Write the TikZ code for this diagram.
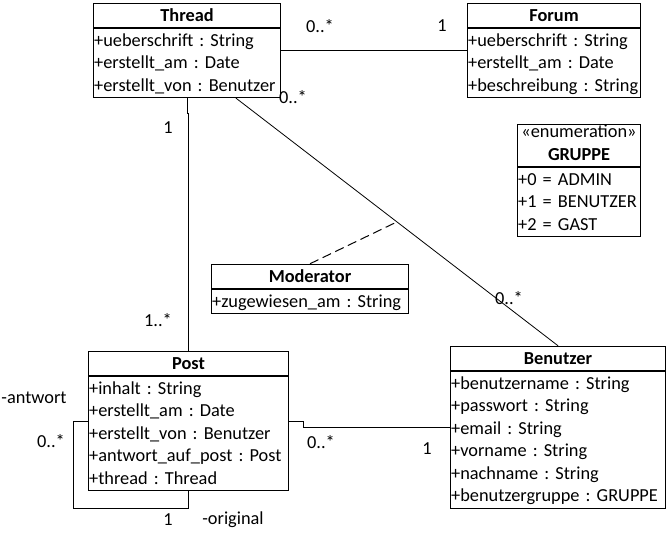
\documentclass[tikz,border=0pt]{standalone}
\usepackage{fontspec}
\setmainfont{Carlito}
\frenchspacing
\usetikzlibrary{positioning,calc,fit}
\newcommand{\clsstrut}{\rule[-4.3pt]{0pt}{16.9pt}}
\tikzset{
  clsfont/.style={font=\fontsize{13.75}{16.9}\selectfont},
  clshead/.style={draw, line width=0.75pt, clsfont, align=center, inner xsep=0pt, inner ysep=0.55pt,
                  execute at begin node=\clsstrut, execute at end node=\clsstrut},
  clsbody/.style={draw, line width=0.75pt, clsfont, align=left, inner xsep=0.5pt, inner ysep=0.55pt,
                  anchor=north, execute at begin node=\clsstrut, execute at end node=\clsstrut},
  assoc/.style={line width=0.75pt},
  assocl/.style={line width=0.6pt},
  assocdash/.style={line width=0.75pt, dash pattern=on 7pt off 3.5pt},
  mult/.style={clsfont, inner sep=0pt},
}
% class box: name, top left, width (px), title, attributes
\newcommand{\umlclass}[5]{%
  \pgfmathsetlengthmacro{\clsw}{#3*0.75pt}%
  \pgfmathsetlengthmacro{\clstw}{#3*0.75pt-1pt}%
  \node[clshead, minimum width=\clsw, anchor=north west] (#1-h) at (#2) {#4};
  \node[clsbody, text width=\clstw] (#1-b) at (#1-h.south) {#5};
  \node[fit=(#1-h)(#1-b), inner sep=0pt] (#1) {};
}

\begin{document}
\begin{tikzpicture}[x=0.75pt, y=-0.75pt]
\useasboundingbox (0,0) rectangle (666,533);
% classes
\umlclass{thread}{93,3}{187}{\textbf{Thread}}
  {+ueberschrift : String\\+erstellt\_am : Date\\+erstellt\_von : Benutzer}
\umlclass{forum}{467,3}{173}{\textbf{Forum}}
  {+ueberschrift : String\\+erstellt\_am : Date\\+beschreibung\ :\ String}
\umlclass{gruppe}{517,124}{123}{«enumeration»\\\textbf{GRUPPE}}
  {+0 = ADMIN\\+1 = BENUTZER\\+2 = GAST}
\umlclass{moderator}{211,264}{197}{\textbf{Moderator}}
  {+zugewiesen\_am : String}
\umlclass{post}{88,351}{200}{\textbf{Post}}
  {+inhalt : String\\+erstellt\_am : Date\\+erstellt\_von : Benutzer\\+antwort\_auf\_post : Post\\+thread : Thread}
\umlclass{benutzer}{450,346}{215}{\textbf{Benutzer}}
  {+benutzername : String\\+passwort : String\\+email : String\\+vorname : String\\+nachname : String\\+benutzergruppe : GRUPPE}

% associations
\draw[assoc] (thread-b.north east) ++(0,22) coordinate (tf) -- (tf -| forum-b.west);
\draw[assoc] (thread.south) -- ++(0,15) -| (post.north);
\draw[assocl] ($(thread-b.south west)!0.76!(thread-b.south east)$) -- coordinate[pos=0.5] (tbmid) (benutzer.north);
\draw[assocdash] (moderator.north) -- (tbmid);
\draw[assoc] (post.east) -- ++(14,0) |- (benutzer.west);
\coordinate (loopb) at ($(post.south)+(0,17)$);
\draw[assoc] (post.west) -- ++(-14,0) |- (loopb) -- (post.south);

% multiplicities and roles
\node[mult] (m-tf1) at (320,26) {0..*};
\node[mult] (m-tf2) at (442,26) {1};
\node[mult] (m-tb1) at (293,97) {0..*};
\node[mult] (m-tb2) at (509,298) {0..*};
\node[mult] (m-tp1) at (168,128) {1};
\node[mult] (m-tp2) at (158,320) {1..*};
\node[mult] (m-pb1) at (321,442) {0..*};
\node[mult] (m-pb2) at (427,449) {1};
\node[mult] (r-antw) at (34,398) {-antwort};
\node[mult] (m-pp1) at (51,441) {0..*};
\node[mult] (m-pp2) at (168,520) {1};
\node[mult] (r-orig) at (233,520) {-original};
\end{tikzpicture}
\end{document}
